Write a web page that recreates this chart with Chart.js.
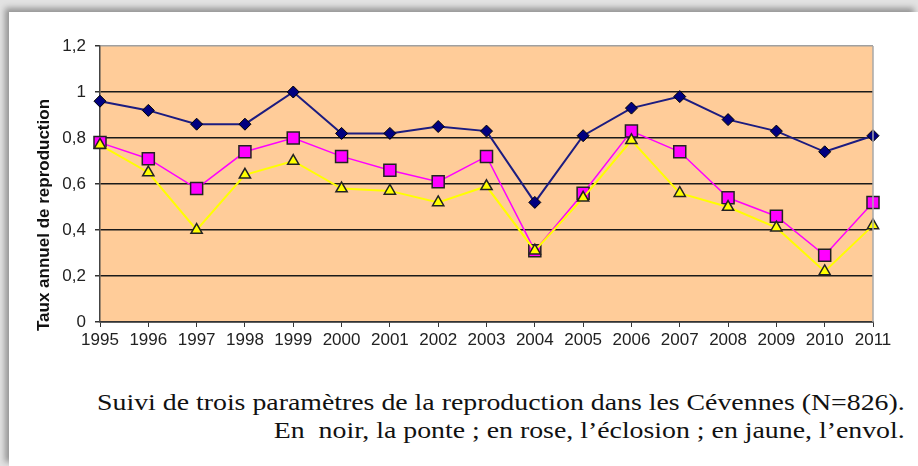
<!DOCTYPE html>
<html>
<head>
<meta charset="utf-8">
<script src="https://cdn.jsdelivr.net/npm/chart.js@4.4.0/dist/chart.umd.min.js"></script>
<style>
    html, body { margin: 0; padding: 0; }
    body { width: 918px; height: 466px; overflow: hidden; position: relative; background: #e2e2e2; }
    #page { position: absolute; left: 9px; top: 12px; right: 0; bottom: 0; background: #fff;
            box-shadow: -4px -4px 6px rgba(0, 0, 0, 0.35); }
    #chartBox { position: absolute; left: 0; top: 0; width: 918px; height: 360px; }
    #caption { position: absolute; right: 13px; top: 388px; font-family: "Liberation Serif", serif;
               font-size: 24px; line-height: 28px; text-align: right; color: #111;
               white-space: nowrap; transform-origin: right top; }
    #caption span { display: inline-block; }
</style>
</head>
<body>
<div id="page"></div>
<div id="chartBox"><canvas id="myChart" width="918" height="360"></canvas></div>
<div id="caption">
    <span id="ligne1">Suivi de trois paramètres de la reproduction dans les Cévennes (N=826).</span><br>
    <span>En&nbsp; noir, la ponte ; en rose, l’éclosion ; en jaune, l’envol.</span>
</div>

<script>
    'use strict'

    // DONNEES
    var annees = ["1995", "1996", "1997", "1998", "1999", "2000", "2001", "2002", "2003",
                  "2004", "2005", "2006", "2007", "2008", "2009", "2010", "2011"];

    // ponte (noir)
    var ponte = [0.96, 0.92, 0.86, 0.86, 1.00, 0.82, 0.82, 0.85, 0.83,
                 0.52, 0.81, 0.93, 0.98, 0.88, 0.83, 0.74, 0.81];

    // eclosion (rose)
    var eclosion = [0.78, 0.71, 0.58, 0.74, 0.80, 0.72, 0.66, 0.61, 0.72,
                    0.31, 0.56, 0.83, 0.74, 0.54, 0.46, 0.29, 0.52];

    // envol (jaune)
    var envol = [0.77, 0.65, 0.40, 0.64, 0.70, 0.58, 0.57, 0.52, 0.59,
                 0.31, 0.54, 0.79, 0.56, 0.50, 0.41, 0.22, 0.42];

    var yTicks = [0, 0.2, 0.4, 0.6, 0.8, 1, 1.2];

    var titreY = "Taux annuel de reproduction";


    // fond orange + bord droit + titre vertical
    var fondPlugin = {
        id: 'fond',
        beforeDraw: function (chart) {
            var a = chart.chartArea;
            var ctx = chart.ctx;
            ctx.save();
            ctx.fillStyle = '#FFCC99';
            ctx.fillRect(a.left, a.top, a.right - a.left, a.bottom - a.top);
            ctx.restore();
        },
        afterDraw: function (chart) {
            var a = chart.chartArea;
            var ctx = chart.ctx;
            ctx.save();
            ctx.strokeStyle = '#a8a8a8';
            ctx.lineWidth = 1.5;
            ctx.beginPath();
            ctx.moveTo(a.right, a.top);
            ctx.lineTo(a.right, a.bottom);
            ctx.stroke();

            ctx.translate(44, 215);
            ctx.rotate(-Math.PI / 2);
            ctx.font = 'bold 17px "Liberation Sans"';
            ctx.fillStyle = '#111';
            ctx.textAlign = 'center';
            ctx.textBaseline = 'middle';
            ctx.fillText(titreY, 0, 0);
            ctx.restore();
        }
    };


    var ctx = document.getElementById('myChart').getContext('2d');

    var chart = new Chart(ctx, {
        type: 'line',

        data: {
            labels: annees,
            datasets: [{
                    label: "ponte",
                    data: ponte,
                    order: 2,
                    borderColor: '#1c1c80',
                    borderWidth: 2,
                    pointStyle: 'rectRot',
                    pointRadius: 6,
                    pointBackgroundColor: '#000080',
                    pointBorderColor: '#000000',
                    pointBorderWidth: 1
                },
                {
                    label: "éclosion",
                    data: eclosion,
                    order: 1,
                    borderColor: '#FF00FF',
                    borderWidth: 1.5,
                    pointStyle: 'rect',
                    pointRadius: 8.5,
                    pointBackgroundColor: '#FF00FF',
                    pointBorderColor: '#222',
                    pointBorderWidth: 1.5
                },
                {
                    label: "envol",
                    data: envol,
                    order: 0,
                    borderColor: '#FFFF00',
                    borderWidth: 2,
                    pointStyle: 'triangle',
                    pointRadius: 6.5,
                    pointBackgroundColor: '#FFFF00',
                    pointBorderColor: '#222',
                    pointBorderWidth: 1.5
                }
            ]
        },

        options: {
            responsive: false,
            animation: false,
            devicePixelRatio: 1,
            layout: {
                padding: { left: 0, right: 45, top: 46, bottom: 0 }
            },
            plugins: {
                legend: { display: false },
                tooltip: { enabled: false }
            },
            elements: {
                line: { tension: 0 }
            },
            scales: {
                x: {
                    offset: false,
                    afterFit: function (scale) { scale.height = 38; },
                    grid: {
                        drawOnChartArea: false,
                        drawTicks: true,
                        tickLength: 5,
                        tickColor: '#333',
                        lineWidth: 1
                    },
                    border: { color: '#333', width: 1.5 },
                    ticks: {
                        color: '#222',
                        padding: 3,
                        maxRotation: 0,
                        autoSkip: false,
                        font: { family: '"Liberation Sans"', size: 17 }
                    }
                },
                y: {
                    min: 0,
                    max: 1.2,
                    afterFit: function (scale) { scale.width = 100; },
                    afterBuildTicks: function (scale) {
                        scale.ticks = yTicks.map(function (v) { return { value: v }; });
                    },
                    grid: {
                        color: function (c) {
                            return c.tick && c.tick.value === 1.2 ? '#a0a0a0' : '#1a1a1a';
                        },
                        lineWidth: 1.5,
                        tickLength: 5,
                        tickColor: '#333'
                    },
                    border: { color: '#444', width: 1.5 },
                    ticks: {
                        color: '#222',
                        padding: 9,
                        font: { family: '"Liberation Sans"', size: 17 },
                        callback: function (v) {
                            return String(Math.round(v * 10) / 10).replace('.', ',');
                        }
                    }
                }
            }
        },
        plugins: [fondPlugin]
    });


    // LEGENDE (ajustee a la largeur)
    var cap = document.getElementById('caption');
    var w = document.getElementById('ligne1').offsetWidth;
    cap.style.transform = 'scaleX(' + (808 / w) + ')';
</script>
</body>
</html>
